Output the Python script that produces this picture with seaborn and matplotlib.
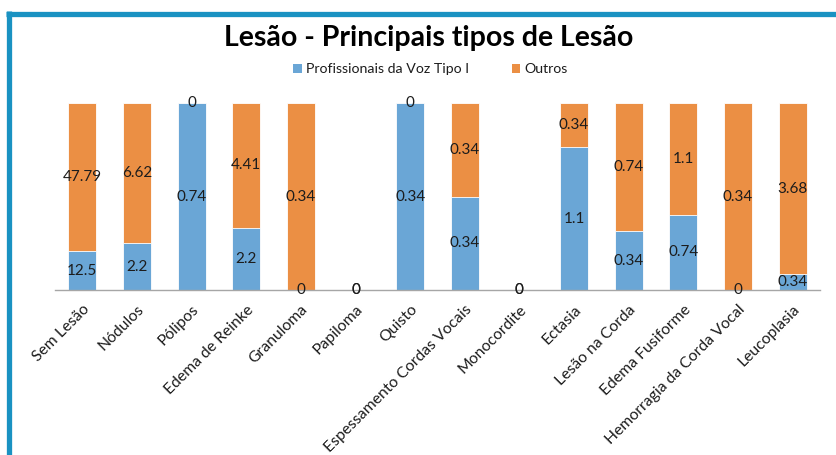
import matplotlib
matplotlib.use("Agg")
import matplotlib.pyplot as plt
import seaborn as sns
import pandas as pd
import numpy as np
from matplotlib.lines import Line2D
from matplotlib.patches import Patch

categories = ["Sem Lesão", "Nódulos", "Pólipos", "Edema de Reinke", "Granuloma",
              "Papiloma", "Quisto", "Espessamento Cordas Vocais", "Monocordite",
              "Ectasia", "Lesão na Corda", "Edema Fusiforme",
              "Hemorragia da Corda Vocal", "Leucoplasia"]
prof_voz = [12.5, 2.2, 0.74, 2.2, 0, 0, 0.34, 0.34, 0, 1.1, 0.34, 0.74, 0, 0.34]
outros = [47.79, 6.62, 0, 4.41, 0.34, 0, 0, 0.34, 0, 0.34, 0.74, 1.1, 0.34, 3.68]
series_names = ["Profissionais da Voz Tipo I", "Outros"]

BLUE = "#6aa6d6"
ORANGE = "#eb8f44"
FRAME = "#1a92c2"
TXT = "#1c1c1c"

sns.set_theme(style="white")
plt.rcParams['font.family'] = ['Lato', 'DejaVu Sans']

df = pd.DataFrame({"cat": categories, "p": prof_voz, "o": outros})
tot = df["p"] + df["o"]
df["pp"] = np.where(tot > 0, df["p"] / tot.replace(0, 1) * 100, 0)
df["tp"] = np.where(tot > 0, 100.0, 0)

fig = plt.figure(figsize=(8.36, 4.55), dpi=100)
ax = fig.add_axes([0.0658, 0.3626, 0.915, 0.411])

sns.barplot(data=df, x="cat", y="tp", order=categories, color=ORANGE,
            width=0.51, ax=ax, saturation=1, edgecolor="white", linewidth=0.6)
sns.barplot(data=df, x="cat", y="pp", order=categories, color=BLUE,
            width=0.51, ax=ax, saturation=1, edgecolor="white", linewidth=0.6)

ax.set_xlim(-0.5, len(categories) - 0.5)
ax.set_ylim(0, 100)
ax.set_xlabel("")
ax.set_ylabel("")
ax.set_yticks([])
for s in ["top", "right", "left"]:
    ax.spines[s].set_visible(False)
ax.spines["bottom"].set_color("#a6a6a6")
ax.spines["bottom"].set_linewidth(1.0)
ax.tick_params(axis="x", length=0, pad=9)
ax.set_xticks(range(len(categories)))
ax.set_xticklabels(categories, rotation=45, ha="right", rotation_mode="anchor",
                   fontsize=11.3, color=TXT)

def fmt(v):
    return ("%g" % v)

for i, (p, o, pp, tp) in enumerate(zip(df["p"], df["o"], df["pp"], df["tp"])):
    yb = pp / 2
    yo = pp + (tp - pp) / 2 if tp > 0 else 0
    ax.text(i, yb, fmt(p), ha="center", va="center", fontsize=11, color=TXT)
    ax.text(i, yo, fmt(o), ha="center", va="center", fontsize=11, color=TXT)

fig.text(0.513, 0.917, "Lesão - Principais tipos de Lesão", ha="center",
         va="center", fontsize=20.5, fontweight="bold", color="black")

handles = [Patch(facecolor=BLUE, edgecolor="none"), Patch(facecolor=ORANGE, edgecolor="none")]
fig.legend(handles, series_names, loc="center", bbox_to_anchor=(0.515, 0.848),
           ncol=2, frameon=False, fontsize=10.2, handlelength=0.6, handleheight=0.6,
           handletextpad=0.3, columnspacing=3.0, labelcolor=TXT)

fig.add_artist(Line2D([6 / 836, 1.0], [1 - 13.5 / 455] * 2, transform=fig.transFigure,
                      color=FRAME, linewidth=3.8, solid_capstyle="butt"))
fig.add_artist(Line2D([8.5 / 836] * 2, [0, 1 - 11 / 455], transform=fig.transFigure,
                      color=FRAME, linewidth=3.8, solid_capstyle="butt"))

fig.savefig("out.png", dpi=100)
